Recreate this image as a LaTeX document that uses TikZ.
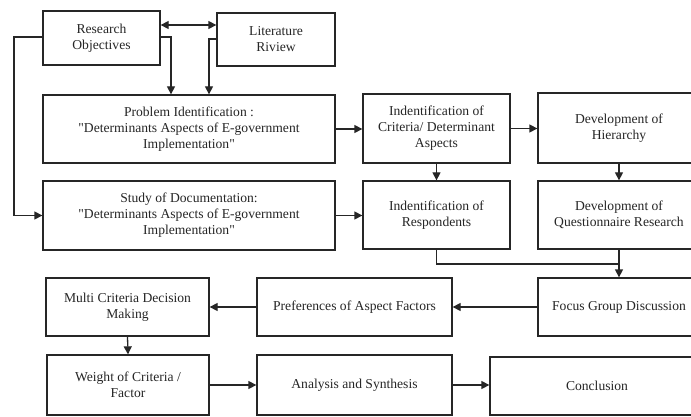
\documentclass[tikz,border=0pt]{standalone}
\usepackage{fontspec}
\setmainfont{Liberation Serif}
\usetikzlibrary{arrows.meta}
\begin{document}
\begin{tikzpicture}[x=1pt,y=-1pt,
  box/.style={draw=black!85, line width=1.3pt, align=center, inner sep=0pt,
    font=\fontsize{13.6}{16}\selectfont, text=black!85},
  conn/.style={draw=black!85, line width=1.3pt},
  arr/.style={conn, -{Triangle[length=8pt,width=8pt]}},
  darr/.style={conn, {Triangle[length=8pt,width=8pt]}-{Triangle[length=8pt,width=8pt]}}]
\useasboundingbox (0,0) rectangle (691,417);
\clip (0,0) rectangle (691,417);
\fill[white] (0,0) rectangle (691,417);
% boxes
\node[box, minimum width=117pt, minimum height=54pt] (RO) at (101.5,38) {Research\\Objectives};
\node[box, minimum width=118pt, minimum height=53pt] (LR) at (276,39.5) {Literature\\Riview};
\node[box, minimum width=292pt, minimum height=68pt] (PI) at (189,129) {Problem Identification :\\\textquotedbl Determinants Aspects of E-government\\Implementation\textquotedbl};
\node[box, minimum width=147pt, minimum height=69pt] (IC) at (436.5,128.5) {Indentification of\\Criteria/ Determinant\\Aspects};
\node[box, minimum width=162pt, minimum height=70pt] (DH) at (619,128) {Development of\\Hierarchy};
\node[box, minimum width=292pt, minimum height=69pt] (SD) at (189,215.5) {Study of Documentation:\\\textquotedbl Determinants Aspects of E-government\\Implementation\textquotedbl};
\node[box, minimum width=147pt, minimum height=68pt] (IR) at (436.5,215) {Indentification of\\Respondents};
\node[box, minimum width=162pt, minimum height=68pt] (DQ) at (619,215) {Development of\\Questionnaire Research};
\node[box, minimum width=162pt, minimum height=58pt] (FG) at (619,307) {Focus Group Discussion};
\node[box, minimum width=195pt, minimum height=58pt] (PA) at (354.5,307) {Preferences of Aspect Factors};
\node[box, minimum width=163pt, minimum height=58pt] (MC) at (127.5,307) {Multi Criteria Decision\\Making};
\node[box, minimum width=162pt, minimum height=60pt] (WC) at (128,385) {Weight of Criteria /\\Factor};
\node[box, minimum width=195pt, minimum height=60pt] (AS) at (354.5,385) {Analysis and Synthesis};
\node[box, minimum width=214pt, minimum height=58pt] (CO) at (597,386) {Conclusion};
% connectors
\draw[darr] (RO.east |- 0,25) -- (LR.west |- 0,25);
\draw[arr] (RO.east |- 0,37) -| (PI.north -| 171,0);
\draw[arr] (LR.west |- 0,39) -| (PI.north -| 209,0);
\draw[arr] (RO.west |- 0,37) -- (14,37) |- (SD.west);
\draw[arr] (PI.east) -- (PI.east -| IC.west);
\draw[arr] (IC.east) -- (IC.east -| DH.west);
\draw[arr] (SD.east) -- (SD.east -| IR.west);
\draw[arr] (IC.south) -- (IR.north);
\draw[arr] (DH.south) -- (DQ.north);
\draw[conn] (IR.south) |- (DQ.south |- 0,264);
\draw[arr] (DQ.south) -- (FG.north);
\draw[arr] (FG.west) -- (PA.east);
\draw[arr] (PA.west) -- (MC.east);
\draw[arr] (MC.south) -- (WC.north);
\draw[arr] (WC.east) -- (AS.west);
\draw[arr] (AS.east) -- (AS.east -| CO.west);
\end{tikzpicture}
\end{document}
